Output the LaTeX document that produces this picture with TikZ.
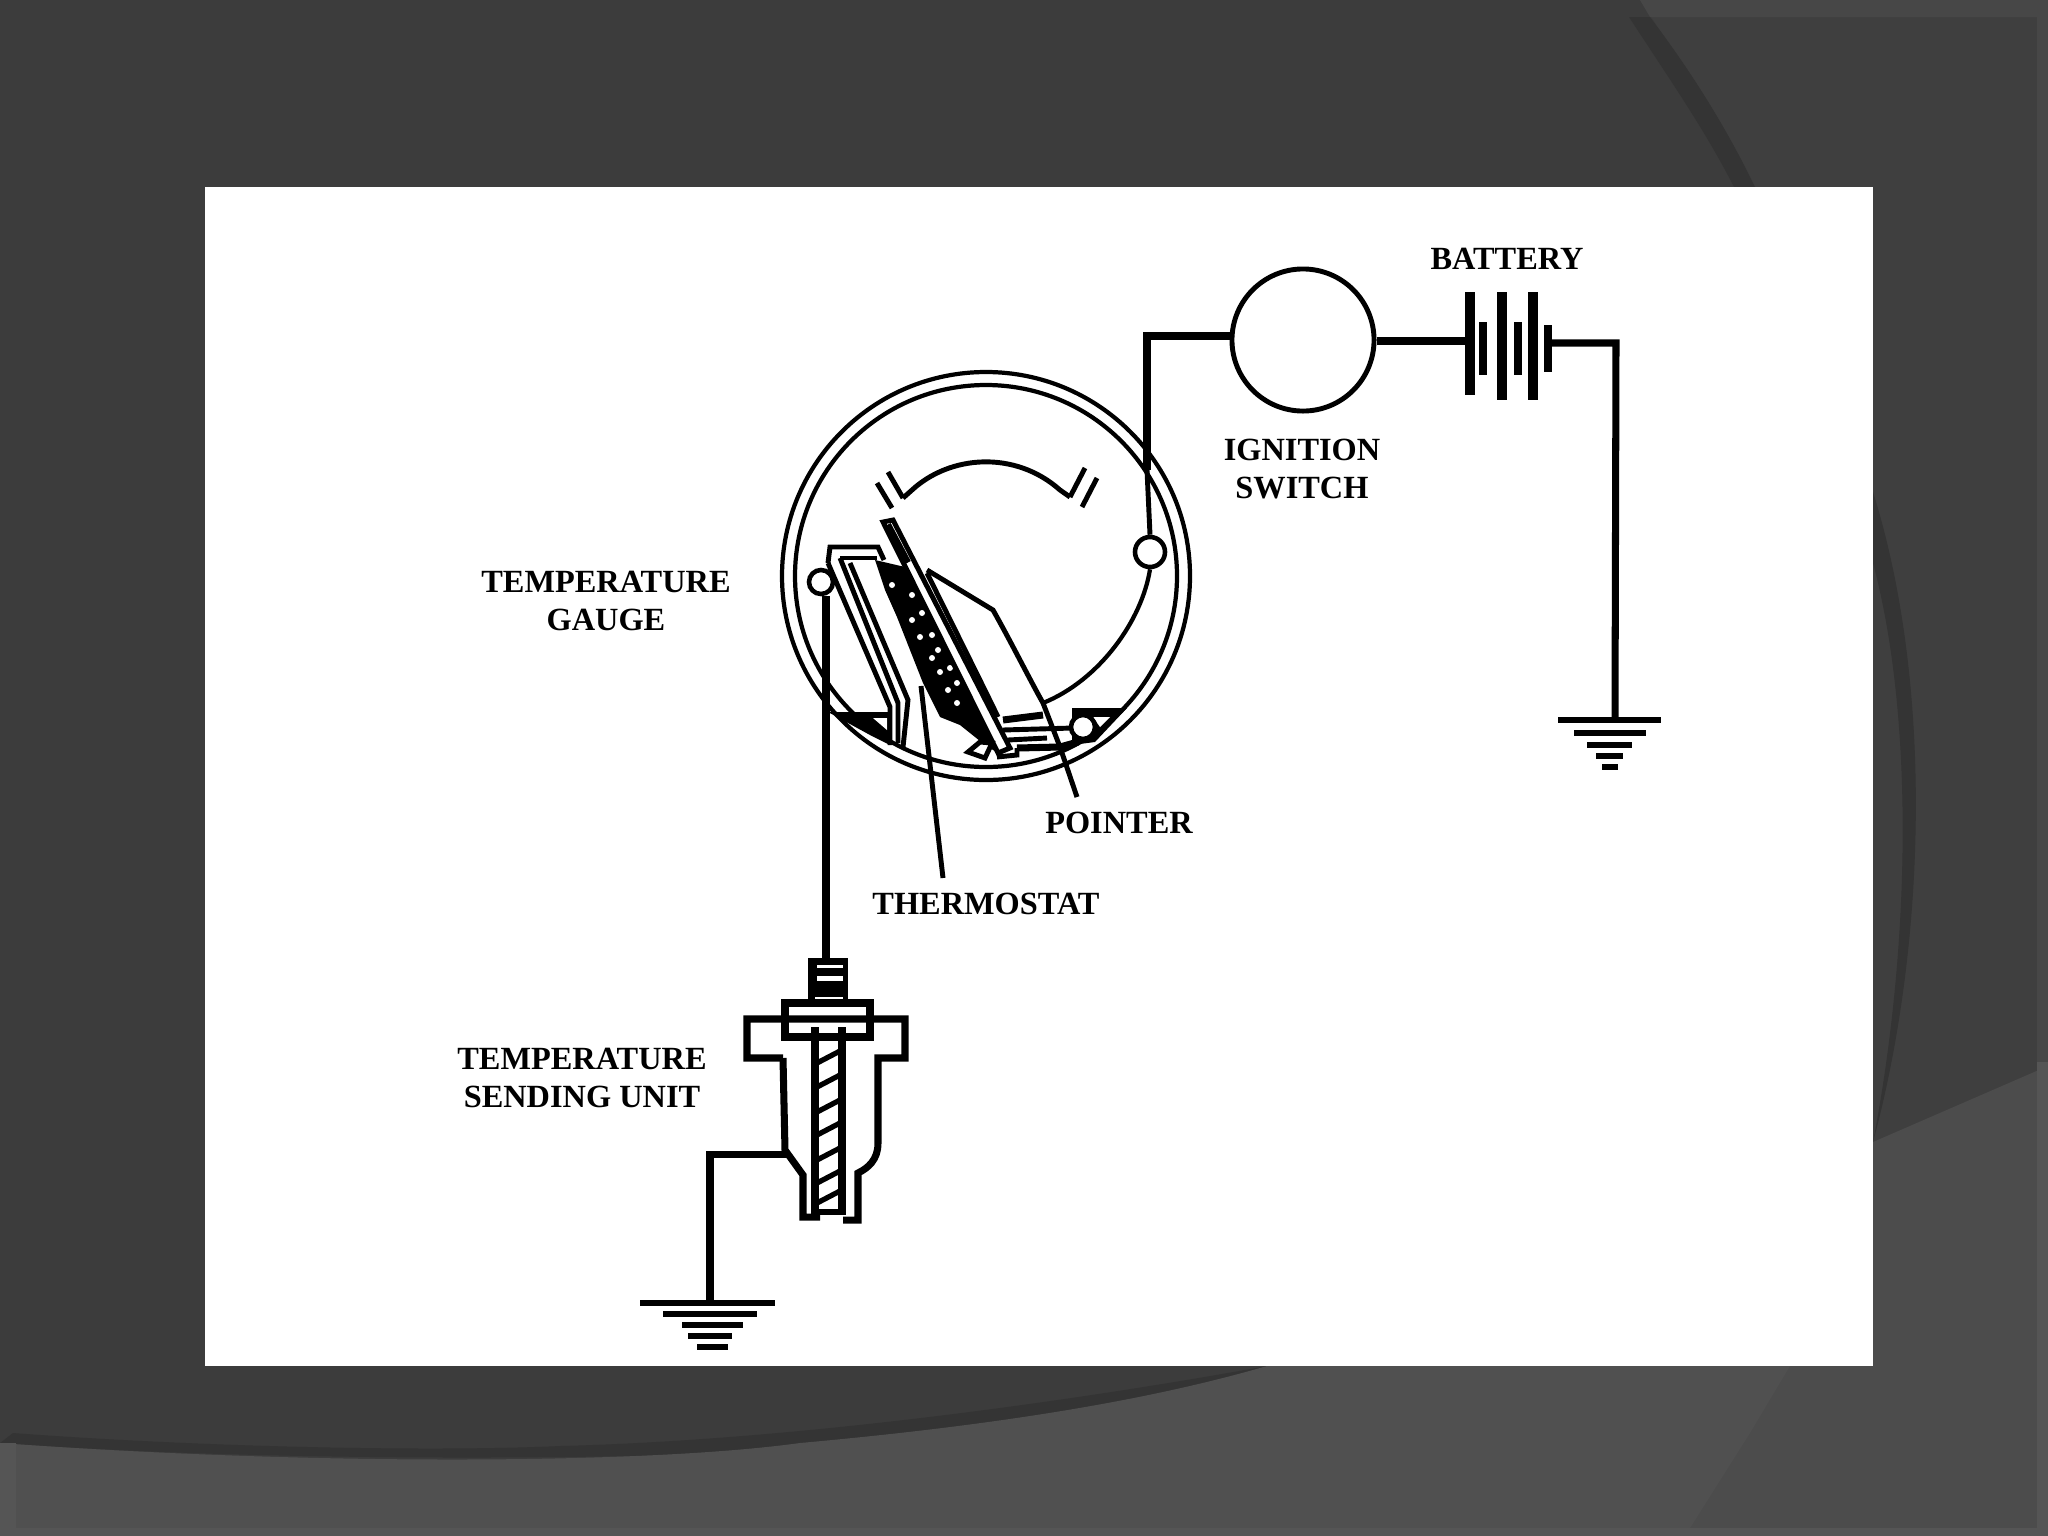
\documentclass[tikz,border=0pt]{standalone}
\usepackage{fontspec}
\setmainfont{Liberation Serif}
\definecolor{slatebase}{HTML}{3F3F3F}
\definecolor{slateleft}{HTML}{3C3C3C}
\definecolor{slatelow}{HTML}{505050}
\definecolor{slatelowr}{HTML}{4C4C4C}
\definecolor{slateshade}{HTML}{343434}
\definecolor{slateedge}{HTML}{474747}
\definecolor{slateedgelow}{HTML}{555555}
\tikzset{
  wire/.style={line width=2pt},
  fineline/.style={line width=1.4pt},
  ring/.style={line width=1.2pt},
  lbl/.style={font=\bfseries\fontsize{9.2}{11}\selectfont,inner sep=0pt,align=center},
  pin/.style={circle,draw,fill=white,line width=1.3pt,inner sep=0pt,minimum size=#1},
  longplate/.style={line width=2.6pt},
  shortplate/.style={line width=2.2pt},
  gndbar/.style={line width=1.8pt}
}
\begin{document}
\begin{tikzpicture}[x=0.01cm,y=-0.01cm]
\useasboundingbox (0,0) rectangle (2048,1536);
\fill[slateleft] (0,0) rectangle (2048,1536);
\fill[slatebase] (1640,0) .. controls (1700,90) and (1750,180) .. (1790,300) -- (1873,500) -- (2048,500) -- (2048,0) -- cycle;
\fill[slatebase] (1873,187) rectangle (2048,1150);
\fill[slateedge] (1640,0) -- (2048,0) -- (2048,17) -- (1650,17) -- cycle;
\fill[slateedge] (2037,0) rectangle (2048,1100);
\fill[slateshade] (1629,17) .. controls (1670,80) and (1705,130) .. (1734,187) -- (1755,187) .. controls (1725,125) and (1690,70) .. (1650,17) -- cycle;
\fill[slateshade] (1873,492) .. controls (1935,690) and (1925,950) .. (1873,1142) .. controls (1910,950) and (1915,720) .. (1873,563) -- cycle;
\fill[slateshade] (13,1433) .. controls (200,1447) and (430,1452) .. (560,1446) .. controls (800,1440) and (1080,1400) .. (1267,1366) .. controls (1190,1440) and (1000,1438) .. (850,1448) .. controls (700,1458) and (300,1465) .. (0,1443) -- cycle;
\fill[slatelowr] (1700,1366) -- (1873,1366) -- (1873,1142) -- (2048,1066) -- (2048,1536) -- (1600,1536) -- cycle;
\fill[slatelow] (0,1443) .. controls (300,1465) and (640,1465) .. (800,1443) .. controls (1000,1425) and (1150,1400) .. (1267,1366) -- (1790,1366) -- (1750,1433) -- (1685,1536) -- (0,1536) -- cycle;
\fill[slateedgelow] (0,1528) rectangle (2048,1536);
\fill[slateedgelow] (0,1443) rectangle (16,1536);
\fill[slateedgelow] (2037,1062) rectangle (2048,1536);
\fill[white] (205,187) rectangle (1873,1366);

\coordinate (gaugec) at (986,576);
\draw[ring] (gaugec) circle[radius=204];
\draw[ring] (gaugec) circle[radius=191];

\draw[fineline] (877,483) -- (892,508);
\draw[fineline] (888,472) -- (903,498);
\draw[fineline] (903,498) -- (912,490) .. controls (950,455) and (1015,450) .. (1060,490) -- (1070,497);
\draw[fineline] (1085,468) -- (1070,497);
\draw[fineline] (1097,478) -- (1082,507);

\draw[fineline] (927,570) -- (993,610) .. controls (1010,640) and (1030,680) .. (1043,703) -- (1060,747);
\draw[fineline] (927,573) .. controls (960,640) and (985,690) .. (998,717);

\fill (828,712) -- (890,712) -- (890,745) -- (870,735) -- cycle;
\fill[white] (873,718) -- (887,718) -- (887,730) -- cycle;
\draw[fineline] (828,563) -- (830,547) -- (878,547) -- (884,560);
\draw[fineline] (828,563) -- (890,707) -- (890,745);
\draw[fineline] (840,558) -- (877,558);
\draw[fineline] (840,558) -- (898,703) -- (898,743);
\draw[fineline] (850,563) -- (908,700) -- (903,747);

\fill (875,560) -- (905,567) -- (998,753) -- (985,745) -- (960,725) -- (940,717) -- (923,683) -- (897,617) -- (885,590) -- cycle;
\foreach \dotx/\doty in {892/585,912/595,922/613,912/620,932/635,920/637,938/650,932/658,950/668,940/672,957/683,948/690,957/703}
  \fill[white] (\dotx,\doty) circle[radius=3];

\draw[fineline,fill=white] (883,522) -- (893,520) -- (1010,748) -- (998,753) -- cycle;
\draw[line width=2.4pt] (887,525) -- (907,563);

\draw[wire] (1003,720) -- (1043,715);
\draw[fineline] (1003,730) -- (1073,728);
\draw[fineline] (1008,740) -- (1047,738);
\draw[wire] (1017,748) -- (1060,747) -- (1078,742);
\draw[fineline] (997,757) -- (1017,755) -- (1017,748);
\draw[fineline,fill=white] (968,752) -- (980,742) -- (992,743) -- (985,758) -- cycle;

\fill (1072,708) -- (1127,708) -- (1095,742) -- (1072,745) -- cycle;
\fill[white] (1093,717) -- (1110,717) -- (1100,727) -- cycle;
\node[pin=0.24cm] (padpin) at (1083,727) {};

\node[pin=0.3cm] (rightpin) at (1150,552) {};
\node[pin=0.24cm] (leftpin) at (821,582) {};
\draw[line width=1.2pt] (rightpin.south) .. controls (1142,620) and (1100,680) .. (1043,703);

\node[circle,draw,line width=1.4pt,minimum size=1.42cm,inner sep=0pt] (ignsw) at (1303,340) {};
\coordinate (wirebend) at (1147,336);
\draw[wire] (ignsw.west |- wirebend) -- (wirebend) -- (1147,470);
\draw[fineline] (1147,470) -- (rightpin.north);

\coordinate (battin) at (1470,341);
\coordinate (battout) at (1548,343);
\coordinate (batbend) at (1616,343);
\coordinate (gndb) at (1615,720);
\draw[wire] (ignsw.east |- battin) -- (battin);
\draw[wire] (battout) -- (batbend) -- (gndb);
\draw[longplate] (1470,292) -- (1470,395);
\draw[shortplate] (1483,322) -- (1483,375);
\draw[longplate] (1502,292) -- (1502,400);
\draw[shortplate] (1518,322) -- (1518,375);
\draw[longplate] (1533,292) -- (1533,400);
\draw[shortplate] (1548,325) -- (1548,372);

\draw[gndbar] (1558,720) -- (1661,720);
\draw[gndbar] (1574,733) -- (1646,733);
\draw[gndbar] (1587,745) -- (1632,745);
\draw[gndbar] (1596,756) -- (1623,756);
\draw[gndbar] (1602,767) -- (1618,767);

\coordinate (capc) at (826,958);
\draw[wire] (capc |- leftpin.south) -- (capc);
\fill (808,958) rectangle (848,1002);
\fill[white] (817,965) rectangle (843,968);
\fill[white] (817,976) rectangle (843,981);
\fill[white] (815,997) rectangle (843,1000);

\draw[wire] (783,1058) -- (747,1058) -- (747,1019) -- (905,1019) -- (905,1058) -- (878,1058) -- (878,1143) .. controls (878,1160) and (868,1168) .. (858,1173) -- (858,1220) -- (843,1220);
\draw[wire] (783,1058) -- (785,1150) -- (803,1175) -- (803,1217) -- (820,1217);
\draw[wire] (785,1003) rectangle (870,1037);
\draw[fineline] (785,1018) -- (870,1018);
\draw[wire] (815,1027) -- (815,1215);
\draw[wire] (842,1027) -- (842,1215);
\draw[line width=1.5pt] (817,1212) -- (840,1212);
\foreach \hatchy in {1063,1087,1112,1135,1160,1183,1203}
  \draw[line width=1.5pt] (817,\hatchy) -- (840,\hatchy-12);

\coordinate (gnda) at (710,1303);
\coordinate (sendnode) at (787,1154);
\draw[wire] (sendnode) -- (710,1154) -- (gnda);
\draw[gndbar] (640,1303) -- (775,1303);
\draw[gndbar] (663,1314) -- (757,1314);
\draw[gndbar] (682,1325) -- (743,1325);
\draw[gndbar] (688,1336) -- (732,1336);
\draw[gndbar] (697,1347) -- (728,1347);

\node[lbl] (gaugelbl) at (606,601) {TEMPERATURE\\GAUGE};
\node[lbl] (swlbl) at (1302,469) {IGNITION\\SWITCH};
\node[lbl] (batlbl) at (1507,259) {BATTERY};
\node[lbl] (sendlbl) at (582,1078) {TEMPERATURE\\SENDING UNIT};
\node[lbl] (pointerlbl) at (1119,823) {POINTER};
\node[lbl] (thermolbl) at (986,904) {THERMOSTAT};
\coordinate (pointertip) at (1077,797);
\coordinate (thermotip) at (943,878);
\draw[fineline] (1060,747) -- (pointertip);
\draw[fineline] (921,686) -- (thermotip);
\end{tikzpicture}
\end{document}
